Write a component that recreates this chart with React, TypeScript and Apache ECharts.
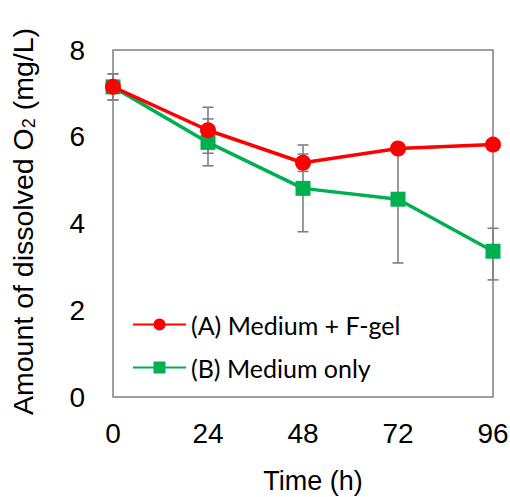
import React, { useEffect, useRef } from "react";
import * as echarts from "echarts";

const times = [0, 24, 48, 72, 96];
const xTicks = [0, 24, 48, 72, 96];
const yTicks = [0, 2, 4, 6, 8];
const nameA = "(A) Medium + F-gel";
const nameB = "(B) Medium only";
const valuesA = [7.15, 6.15, 5.4, 5.73, 5.82];
const errLowA = [0.3, 0.53, 0.2, 0.1, 0.1];
const errHighA = [0.3, 0.53, 0.2, 0.1, 0.1];
const valuesB = [7.15, 5.87, 4.81, 4.56, 3.36];
const errLowB = [0.3, 0.54, 1.0, 1.47, 0.66];
const errHighB = [0.3, 0.54, 1.0, 1.1, 0.53];

const RED = "#FF0000";
const GREEN = "#00B050";
const GREY = "#808080";
const ARIAL = "'Liberation Sans', Arial, sans-serif";

function errData(vals: number[], lo: number[], hi: number[]) {
  return times.map((t, i) => [t, vals[i] - lo[i], vals[i] + hi[i]]);
}

function renderErr(params: any, api: any) {
  const x = api.value(0);
  const p1 = api.coord([x, api.value(1)]);
  const p2 = api.coord([x, api.value(2)]);
  const hw = 5.5;
  const style = { stroke: GREY, lineWidth: 1.6, fill: "none" };
  return {
    type: "group",
    children: [
      { type: "line", shape: { x1: p1[0], y1: p1[1], x2: p2[0], y2: p2[1] }, style },
      { type: "line", shape: { x1: p1[0] - hw, y1: p1[1], x2: p1[0] + hw, y2: p1[1] }, style },
      { type: "line", shape: { x1: p2[0] - hw, y1: p2[1], x2: p2[0] + hw, y2: p2[1] }, style },
    ],
  };
}

export default function App() {
  const ref = useRef<HTMLDivElement>(null);
  useEffect(() => {
    if (!ref.current) return;
    const chart = echarts.init(ref.current, null, { renderer: "svg" });
    chart.setOption({
      animation: false,
      textStyle: { fontFamily: ARIAL },
      grid: {
        left: 113,
        right: 17,
        top: 50,
        bottom: 100,
        show: true,
        borderColor: GREY,
        borderWidth: 1.5,
        backgroundColor: "transparent",
        containLabel: false,
        outerBoundsMode: "none",
      },
      legend: {
        left: 127,
        top: 307,
        orient: "vertical",
        itemWidth: 53,
        itemHeight: 15,
        itemGap: 18,
        data: [nameA, nameB],
        textStyle: { fontFamily: "Lato, sans-serif", fontSize: 25, color: "#000" },
      },
      xAxis: {
        type: "value",
        min: xTicks[0],
        max: xTicks[xTicks.length - 1],
        interval: 24,
        axisLine: { show: false },
        axisTick: { show: false },
        splitLine: { show: false },
        axisLabel: { fontSize: 28, color: "#000", margin: 22, fontFamily: ARIAL },
        name: "Time (h)",
        nameLocation: "middle",
        nameGap: 70,
        nameTextStyle: { fontSize: 27, color: "#000", fontFamily: ARIAL, padding: [0, 0, 0, 20] },
      },
      yAxis: {
        type: "value",
        min: yTicks[0],
        max: yTicks[yTicks.length - 1],
        interval: 2,
        axisLine: { show: false },
        axisTick: { show: false },
        splitLine: { show: false },
        axisLabel: { fontSize: 28, color: "#000", margin: 28, fontFamily: ARIAL },
        name: "{a|Amount of dissolved O}{s|2}{a| (mg/L)}",
        nameLocation: "middle",
        nameRotate: 90,
        nameGap: 75,
        nameTextStyle: {
          padding: [0, 0, 0, 4],
          rich: {
            a: { fontSize: 28.5, color: "#000", fontFamily: ARIAL },
            s: { fontSize: 18, color: "#000", fontFamily: ARIAL, padding: [13, 0, 0, 0] },
          },
        },
      },
      series: [
        {
          type: "custom",
          name: "errA",
          data: errData(valuesA, errLowA, errHighA),
          renderItem: renderErr,
          z: 1,
          silent: true,
        },
        {
          type: "custom",
          name: "errB",
          data: errData(valuesB, errLowB, errHighB),
          renderItem: renderErr,
          z: 1,
          silent: true,
        },
        {
          type: "line",
          name: nameB,
          data: times.map((t, i) => [t, valuesB[i]]),
          symbol: "rect",
          symbolSize: 15,
          lineStyle: { color: GREEN, width: 3.5 },
          itemStyle: { color: GREEN },
          z: 3,
        },
        {
          type: "line",
          name: nameA,
          data: times.map((t, i) => [t, valuesA[i]]),
          symbol: "circle",
          symbolSize: 16,
          lineStyle: { color: RED, width: 3.5 },
          itemStyle: { color: RED },
          z: 4,
        },
      ],
    });
    return () => chart.dispose();
  }, []);
  return <div ref={ref} style={{ width: 510, height: 497, position: "absolute", left: 0, top: 0 }} />;
}
